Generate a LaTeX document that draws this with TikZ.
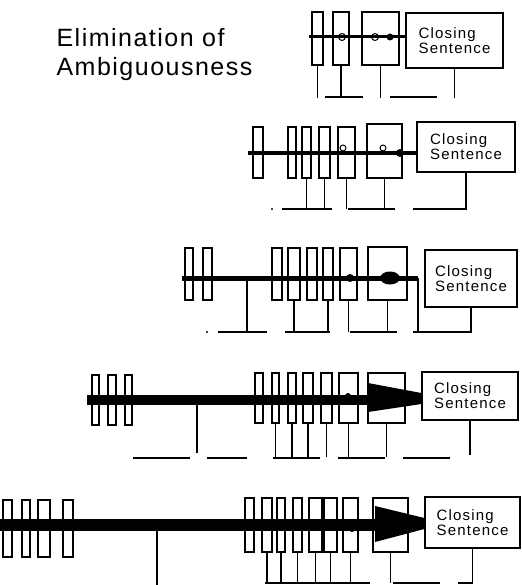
\documentclass[tikz,border=0pt]{standalone}
\usepackage{fontspec}
\setmainfont{Liberation Sans}
\usetikzlibrary{calc, positioning}

\tikzset{
  wbox/.style={draw, line width=1.3pt, fill=white, inner sep=0pt},
  closing/.style={draw, line width=1.3pt, fill=white, inner sep=0pt, align=left,
    font=\fontsize{15}{15}\selectfont\addfontfeature{LetterSpace=8}},
  tie/.style={line width=1.2pt},
  title/.style={anchor=base west, font=\fontsize{25}{29}\selectfont\addfontfeature{LetterSpace=6}},
}

\begin{document}
\begin{tikzpicture}[x=1pt, y=-1pt]
  \useasboundingbox (0,0) rectangle (521,585);

  \node[title] (title1) at (53,47) {Elimination of};
  \node[title] (title2) at (53,76) {Ambiguousness};

  % row 1
  \foreach \n/\xl/\xr in {a/312/323, b/333/349, c/362/399}
    \node[wbox, minimum width=\xr-\xl, minimum height=53] (r1\n) at ({(\xl+\xr)/2}, 38.5) {};
  \node[closing, minimum width=97, minimum height=55] (r1z) at (454.5,40.5) {Closing\\Sentence};
  \coordinate (r1s) at (309,37);
  \draw[line width=3pt] (r1s) -- (r1s -| r1z.west);
  \draw[line width=1pt] (342,37) circle (3.5) (375,37) circle (3.5);
  \fill (390,37) circle (3.5);
  \foreach \n in {a,b,c}
    \draw[tie] (r1\n.south) -- ++(0,32);
  \draw[tie] (r1z.south) -- ++(0,29);
  \draw[tie] (325,97) -- (363,97) (390,97) -- (437,97);

  % row 2
  \foreach \n/\xl/\xr in {a/253/263, b/288/296, c/302/311, d/319/330, e/338/355}
    \node[wbox, minimum width=\xr-\xl, minimum height=51] (r2\n) at ({(\xl+\xr)/2}, 152.5) {};
  \node[wbox, minimum width=35, minimum height=54] (r2f) at (384.5,151) {};
  \node[closing, minimum width=98, minimum height=50] (r2z) at (466,147) {Closing\\Sentence};
  \coordinate (r2s) at (248,153);
  \draw[line width=3.5pt] (r2s) -- (r2s -| r2z.west);
  \draw[line width=1pt] (343,148) circle (3) (383,148) circle (3);
  \fill (400,153) circle (4);
  \foreach \n in {c,d,e,f}
    \draw[tie] (r2\n.south) -- (r2\n.south |- 0,209);
  \draw[tie] (r2z.south) -- (r2z.south |- 0,209) -- (413,209);
  \draw[tie] (282,209) -- (332,209) (348,209) -- (395,209);
  \fill (272,209) circle (1.2);

  % row 3
  \foreach \n/\xl/\xr in {a/185/193, b/203/212, c/272/282, d/288/300, e/307/317, f/323/333, g/340/357}
    \node[wbox, minimum width=\xr-\xl, minimum height=52] (r3\n) at ({(\xl+\xr)/2}, 274) {};
  \node[wbox, minimum width=39, minimum height=53] (r3h) at (387.5,273.5) {};
  \node[closing, minimum width=92, minimum height=57] (r3z) at (471,278.5) {Closing\\Sentence};
  \coordinate (r3s) at (182,278);
  \coordinate (r3e) at (418,278);
  \draw[line width=5pt] (r3s) -- (r3e);
  \fill (350,278) circle (4);
  \fill (390,278) ellipse [x radius=10, y radius=6.5];
  \draw[tie] (247,278) -- (247,332);
  \foreach \n in {d,e,f,g,h}
    \draw[tie] (r3\n.south) -- (r3\n.south |- 0,332);
  \draw[tie] (r3z.south) -- (r3z.south |- 0,332) -- (413,332);
  \draw[tie] (218,332) -- (267,332) (285,332) -- (330,332) (350,332) -- (397,332);
  \fill (207,332) circle (1.2);

  % row 4
  \foreach \n/\xl/\xr in {a/92/99, b/108/116, c/125/132}
    \node[wbox, minimum width=\xr-\xl, minimum height=50] (r4\n) at ({(\xl+\xr)/2}, 400) {};
  \foreach \n/\xl/\xr in {d/255/263, e/272/279, f/288/296, g/303/313, h/321/332, i/339/358, j/368/405}
    \node[wbox, minimum width=\xr-\xl, minimum height=50] (r4\n) at ({(\xl+\xr)/2}, 398) {};
  \node[closing, minimum width=96, minimum height=48] (r4z) at (470,396) {Closing\\Sentence};
  \coordinate (r4s) at (87,400);
  \draw[line width=10pt] (r4s) -- (372,400);
  \fill (368,383) -- (r4z.west |- 0,393) -- (r4z.west |- 0,404) -- (368,412) -- cycle;
  \fill (348,396) circle (3);
  \draw[tie] (197,400) -- (197,453);
  \foreach \n in {e,f,g,h,i,j}
    \draw[tie] (r4\n.south) -- (r4\n.south |- 0,457);
  \draw[tie] (r4z.south) -- (r4z.south |- 0,455);
  \draw[tie] (133,458) -- (190,458) (207,458) -- (247,458) (273,458) -- (320,458)
    (338,458) -- (385,458) (403,458) -- (450,458);

  % row 5
  \foreach \n/\xl/\xr in {a/3/12, b/22/30, c/38/50, d/63/73}
    \node[wbox, minimum width=\xr-\xl, minimum height=57] (r5\n) at ({(\xl+\xr)/2}, 528.5) {};
  \foreach \n/\xl/\xr in {e/245/254, f/262/272, g/277/285, h/293/302, i/309/322, j/324/337, k/343/358, l/373/408}
    \node[wbox, minimum width=\xr-\xl, minimum height=54] (r5\n) at ({(\xl+\xr)/2}, 525) {};
  \node[closing, minimum width=95, minimum height=51] (r5z) at (472.5,522.5) {Closing\\Sentence};
  \coordinate (r5s) at (0,525);
  \draw[line width=12pt] (r5s) -- (378,525);
  \fill (375,506) -- (r5z.west |- 0,518) -- (r5z.west |- 0,529) -- (375,542) -- cycle;
  \fill (352,529) circle (3);
  \draw[tie] (157,525) -- (157,585);
  \foreach \n in {f,g,h,i,j,k,l}
    \draw[tie] (r5\n.south) -- (r5\n.south |- 0,583);
  \draw[tie] (r5z.south) -- (r5z.south |- 0,583) -- (458,583);
  \draw[tie] (265,583) -- (370,583) (393,583) -- (440,583);
\end{tikzpicture}
\end{document}
